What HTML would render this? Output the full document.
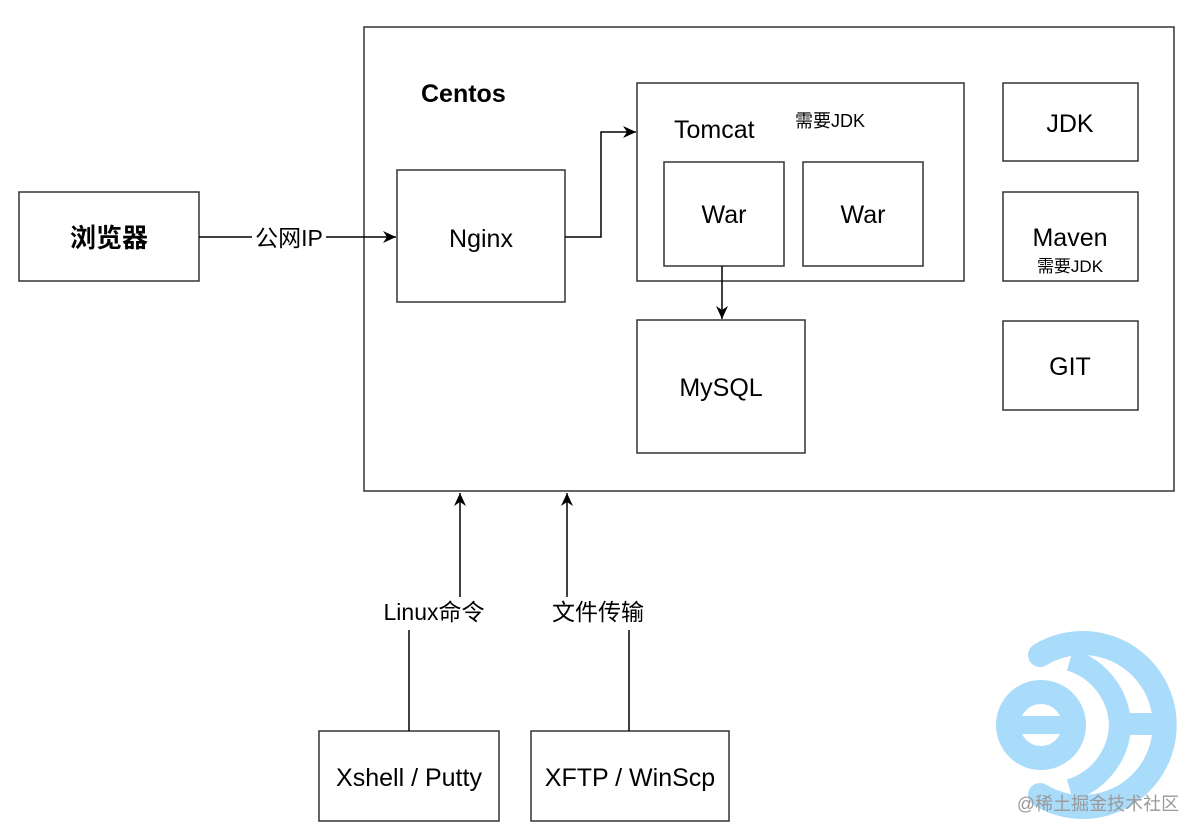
<!DOCTYPE html>
<html><head><meta charset="utf-8"><style>
html,body{margin:0;padding:0;background:#fff;}
svg{display:block}
text{font-family:"Liberation Sans","Noto Sans CJK SC",sans-serif;fill:#000}
</style></head><body>
<svg width="1201" height="838" viewBox="0 0 1201 838" xmlns="http://www.w3.org/2000/svg">
<defs><marker id="a" markerWidth="14" markerHeight="14" refX="13" refY="7" orient="auto" markerUnits="userSpaceOnUse"><path d="M0,1 L13,7 L0,13 L4,7 Z" fill="#000"/></marker></defs>
<g fill="none" stroke="#a9dbfa" stroke-width="24" stroke-linecap="round">
<path d="M1040,655 A82,82 0 1 1 1040,795"/>
<circle cx="1041" cy="725" r="33"/>
</g>
<rect x="1015" y="716" width="55" height="18" fill="#a9dbfa"/>
<rect x="1110" y="713" width="64" height="22" fill="#a9dbfa"/>
<path d="M1070,660 A70,70 0 0 1 1120,725 A70,70 0 0 1 1070,790" fill="none" stroke="#a9dbfa" stroke-width="22"/>
<g stroke="#333" stroke-width="1.5" fill="#fff">
<rect x="364" y="27" width="810" height="464" fill="none"/>
<rect x="19" y="192" width="180" height="89"/>
<rect x="397" y="170" width="168" height="132"/>
<rect x="637" y="83" width="327" height="198"/>
<rect x="664" y="162" width="120" height="104"/>
<rect x="803" y="162" width="120" height="104"/>
<rect x="637" y="320" width="168" height="133"/>
<rect x="1003" y="83" width="135" height="78"/>
<rect x="1003" y="192" width="135" height="89"/>
<rect x="1003" y="321" width="135" height="89"/>
<rect x="319" y="731" width="180" height="90"/>
<rect x="531" y="731" width="198" height="90"/>
</g>
<g stroke="#000" stroke-width="1.5" fill="none">
<path d="M199,237 H396" marker-end="url(#a)"/>
<path d="M565,237 H601 V132 H636" marker-end="url(#a)"/>
<path d="M722,266 V319" marker-end="url(#a)"/>
<path d="M460,597 V493" marker-end="url(#a)"/>
<path d="M567,597 V493" marker-end="url(#a)"/>
<path d="M409,731 V630"/>
<path d="M629,731 V630"/>
</g>
<rect x="252" y="224" width="74" height="28" fill="#fff"/>
<text x="289" y="246" font-size="23" text-anchor="middle">公网IP</text>
<text x="109" y="247" font-size="26" font-weight="bold" text-anchor="middle">浏览器</text>
<text x="421" y="102" font-size="25" font-weight="bold">Centos</text>
<text x="481" y="247" font-size="25" text-anchor="middle">Nginx</text>
<text x="674" y="138" font-size="25">Tomcat</text>
<text x="795" y="127" font-size="18">需要JDK</text>
<text x="724" y="223" font-size="25" text-anchor="middle">War</text>
<text x="863" y="223" font-size="25" text-anchor="middle">War</text>
<text x="721" y="396" font-size="25" text-anchor="middle">MySQL</text>
<text x="1070" y="132" font-size="25" text-anchor="middle">JDK</text>
<text x="1070" y="246" font-size="25" text-anchor="middle">Maven</text>
<text x="1070" y="272" font-size="17" text-anchor="middle">需要JDK</text>
<text x="1070" y="375" font-size="25" text-anchor="middle">GIT</text>
<text x="434" y="620" font-size="23" text-anchor="middle">Linux命令</text>
<text x="598" y="620" font-size="23" text-anchor="middle">文件传输</text>
<text x="409" y="786" font-size="25" text-anchor="middle">Xshell / Putty</text>
<text x="630" y="786" font-size="25" text-anchor="middle">XFTP / WinScp</text>
<text x="1098" y="810" font-size="18" text-anchor="middle" style="fill:#999">@稀土掘金技术社区</text>
</svg>
</body></html>
